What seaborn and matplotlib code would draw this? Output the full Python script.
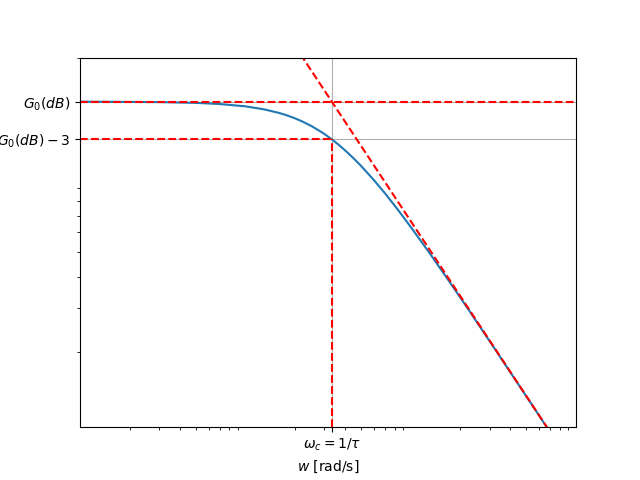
import matplotlib
matplotlib.use('Agg')
import matplotlib.pyplot as plt
import seaborn as sns

# magnitude curve (log-log)
w = [0.1, 0.3, 0.5, 0.7, 1.0, 1.3, 1.6, 1.8, 2.0, 2.2, 2.5, 2.8, 3.0, 3.33,
     3.6, 4.0, 4.5, 5.0, 6.0, 7.0, 8.5, 10, 13, 17, 22, 30, 40, 55, 70, 100]
gain = [20.0, 19.92, 19.78, 19.57, 19.16, 18.63, 18.03, 17.60, 17.15, 16.69,
        16.0, 15.31, 14.87, 14.15, 13.59, 12.80, 11.90, 11.09, 9.71, 8.60,
        7.30, 6.32, 4.97, 3.85, 3.00, 2.21, 1.66, 1.21, 0.951, 0.666]

# high frequency asymptote
asym_w = [1, 100]
asym_gain = [66.7, 0.667]

g0 = 20
g_3db = 14.14
wc = 3.33
w_limits = [0.1, 100]
gain_limits = [1, 30]

fig, ax = plt.subplots(figsize=(6.4, 4.8))

sns.lineplot(x=w, y=gain, ax=ax)
sns.lineplot(x=asym_w, y=asym_gain, color='r', linestyle='--', ax=ax)
ax.set_xscale('log')
ax.set_yscale('log')

ax.axhline(g0, color='r', linestyle='--')
ax.hlines(g_3db, w_limits[0], wc, colors='r', linestyles='--')
ax.vlines(wc, gain_limits[0], g_3db, colors='r', linestyles='--')

ax.set_xlim(w_limits)
ax.set_ylim(gain_limits)
ax.set_xticks([wc], [r'$\omega_c = 1/\tau$'])
ax.set_yticks([g0, g_3db], [r'$G_0(dB)$', r'$G_0(dB) - 3$'])
ax.grid(True)
ax.set_xlabel(r'$w$ [rad/s]')

fig.savefig('out.png', dpi=100)
